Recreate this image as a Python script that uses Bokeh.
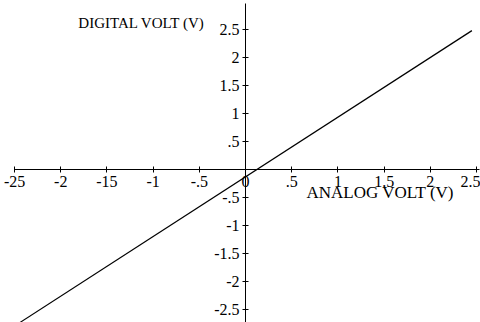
from bokeh.plotting import figure
from bokeh.models import LinearAxis, FixedTicker, Range1d, Label
from bokeh.embed import file_html
from bokeh.resources import INLINE

# Transfer characteristic: analog input vs digital output (volts)
analog_volt = [-2.44, 2.45]
digital_volt = [-2.73, 2.48]

# Tick values and their printed labels
x_ticks = [-2.5, -2.0, -1.5, -1.0, -0.5, 0.0, 0.5, 1.0, 1.5, 2.0, 2.5]
x_tick_labels = ["-25", "-2", "-15", "-1", "-.5", "0", ".5", "1", "1.5", "2", "2.5"]
y_ticks = [-2.5, -2.0, -1.5, -1.0, -0.5, 0.0, 0.5, 1.0, 1.5, 2.0, 2.5]
y_tick_labels = ["-2.5", "-2", "-1.5", "-1", "-.5", "", ".5", "1", "1.5", "2", "2.5"]

FONT = "Liberation Serif"

p = figure(width=480, height=322, output_backend="svg", toolbar_location=None,
           x_range=Range1d(-2.652, 2.543), y_range=Range1d(-2.732, 3.018),
           x_axis_location=None, y_axis_location=None, min_border=0)
p.outline_line_color = None
p.grid.visible = False
p.background_fill_color = "white"
p.border_fill_color = "white"

xaxis = LinearAxis(fixed_location=0, bounds=(-2.5, 2.53),
                   ticker=FixedTicker(ticks=x_ticks),
                   major_label_overrides={t: s for t, s in zip(x_ticks, x_tick_labels)})
yaxis = LinearAxis(fixed_location=0, bounds=(-2.8, 2.96),
                   ticker=FixedTicker(ticks=y_ticks),
                   major_label_overrides={t: s for t, s in zip(y_ticks, y_tick_labels)})
for ax in (xaxis, yaxis):
    ax.axis_line_color = "black"
    ax.axis_line_width = 1
    ax.major_tick_line_color = "black"
    ax.major_tick_in = 3
    ax.major_tick_out = 3
    ax.minor_tick_line_color = None
    ax.major_label_text_font = FONT
    ax.major_label_text_font_size = "16px"
    ax.major_label_text_color = "black"
    ax.major_label_standoff = 3
p.add_layout(xaxis, "below")
p.add_layout(yaxis, "left")

p.line(analog_volt, digital_volt, line_color="black", line_width=1.2)

p.add_layout(Label(x=0.66, y=-0.24, text="ANALOG VOLT (V)", text_font=FONT,
                   text_font_size="17px", text_color="black", text_baseline="top"))
p.add_layout(Label(x=-1.81, y=2.62, text="DIGITAL VOLT (V)", text_font=FONT,
                   text_font_size="15px", text_color="black", text_baseline="middle"))

open("out.html", "w").write(file_html(p, INLINE))
